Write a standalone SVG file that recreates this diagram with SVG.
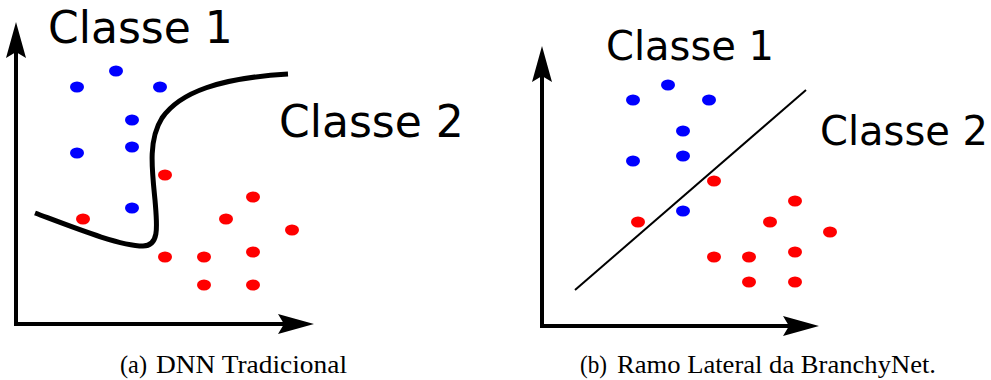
<svg xmlns="http://www.w3.org/2000/svg" width="991" height="380" viewBox="0 0 991 380">
  <defs>
    <style>
      .axis { stroke: #000; stroke-width: 4; fill: none; }
      .b { fill: #0000ff; }
      .r { fill: #ff0000; }
      .lbl { font-family: "DejaVu Sans", sans-serif; fill: #000; }
      .cap { font-family: "Liberation Serif", "Times New Roman", serif; font-size: 26px; fill: #000; }
    </style>
    <marker id="arr" markerUnits="userSpaceOnUse" viewBox="-6 -10 36 20" refX="0" refY="0" markerWidth="36" markerHeight="20" orient="auto" overflow="visible">
      <path d="M30,0 L-6,-10 L0,0 L-6,10 Z" fill="#000"/>
    </marker>
  </defs>
  <rect width="991" height="380" fill="#fff"/>

  <!-- Panel (a) -->
  <g id="panel-a">
    <g id="axes-a">
      <path class="axis" d="M16,326 L16,52" marker-end="url(#arr)"/>
      <path class="axis" d="M14,324 L284,324" marker-end="url(#arr)"/>
    </g>
    <g id="boundary-a">
      <path d="M35,213 C75,228 120,246 143,246 C160,246 157,225 155,200 C152,170 148,140 162,118 C180,92 220,78 288,74" fill="none" stroke="#000" stroke-width="5"/>
    </g>
    <g id="class1-a">
      <ellipse class="b" cx="77" cy="87" rx="7" ry="5.5"/>
      <ellipse class="b" cx="116" cy="71" rx="7" ry="5.5"/>
      <ellipse class="b" cx="160" cy="87" rx="7" ry="5.5"/>
      <ellipse class="b" cx="132" cy="120" rx="7" ry="5.5"/>
      <ellipse class="b" cx="77" cy="153" rx="7" ry="5.5"/>
      <ellipse class="b" cx="132" cy="147" rx="7" ry="5.5"/>
      <ellipse class="b" cx="132" cy="208" rx="7" ry="5.5"/>
    </g>
    <g id="class2-a">
      <ellipse class="r" cx="165" cy="175" rx="7" ry="5.5"/>
      <ellipse class="r" cx="83" cy="219" rx="7" ry="5.5"/>
      <ellipse class="r" cx="253" cy="197" rx="7" ry="5.5"/>
      <ellipse class="r" cx="226" cy="219" rx="7" ry="5.5"/>
      <ellipse class="r" cx="292" cy="230" rx="7" ry="5.5"/>
      <ellipse class="r" cx="165" cy="257" rx="7" ry="5.5"/>
      <ellipse class="r" cx="204" cy="257" rx="7" ry="5.5"/>
      <ellipse class="r" cx="253" cy="252" rx="7" ry="5.5"/>
      <ellipse class="r" cx="204" cy="285" rx="7" ry="5.5"/>
      <ellipse class="r" cx="253" cy="285" rx="7" ry="5.5"/>
    </g>
    <text class="lbl" x="48" y="43" font-size="44">Classe 1</text>
    <text class="lbl" x="279" y="137" font-size="44">Classe 2</text>
    <text class="cap" x="120" y="372.5" textLength="27" lengthAdjust="spacingAndGlyphs">(a)</text>
    <text class="cap" x="156" y="372.5" textLength="191" lengthAdjust="spacingAndGlyphs">DNN Tradicional</text>
  </g>

  <!-- Panel (b) -->
  <g id="panel-b">
    <g id="axes-b">
      <path class="axis" d="M542,328 L542,76" marker-end="url(#arr)"/>
      <path class="axis" d="M540,326 L789,326" marker-end="url(#arr)"/>
    </g>
    <g id="boundary-b">
      <path d="M575,290 L806,90" fill="none" stroke="#000" stroke-width="2"/>
    </g>
    <g id="class1-b">
      <ellipse class="b" cx="633" cy="100" rx="7" ry="5.5"/>
      <ellipse class="b" cx="668" cy="85" rx="7" ry="5.5"/>
      <ellipse class="b" cx="709" cy="100" rx="7" ry="5.5"/>
      <ellipse class="b" cx="683" cy="131" rx="7" ry="5.5"/>
      <ellipse class="b" cx="633" cy="161" rx="7" ry="5.5"/>
      <ellipse class="b" cx="683" cy="156" rx="7" ry="5.5"/>
      <ellipse class="b" cx="683" cy="211" rx="7" ry="5.5"/>
    </g>
    <g id="class2-b">
      <ellipse class="r" cx="714" cy="181" rx="7" ry="5.5"/>
      <ellipse class="r" cx="638" cy="222" rx="7" ry="5.5"/>
      <ellipse class="r" cx="795" cy="201" rx="7" ry="5.5"/>
      <ellipse class="r" cx="770" cy="222" rx="7" ry="5.5"/>
      <ellipse class="r" cx="830" cy="232" rx="7" ry="5.5"/>
      <ellipse class="r" cx="714" cy="257" rx="7" ry="5.5"/>
      <ellipse class="r" cx="749" cy="257" rx="7" ry="5.5"/>
      <ellipse class="r" cx="795" cy="252" rx="7" ry="5.5"/>
      <ellipse class="r" cx="749" cy="282" rx="7" ry="5.5"/>
      <ellipse class="r" cx="795" cy="282" rx="7" ry="5.5"/>
    </g>
    <text class="lbl" x="606" y="60" font-size="40">Classe 1</text>
    <text class="lbl" x="820" y="145" font-size="40">Classe 2</text>
    <text class="cap" x="580" y="372.5" textLength="27" lengthAdjust="spacingAndGlyphs">(b)</text>
    <text class="cap" x="617" y="372.5" textLength="319" lengthAdjust="spacingAndGlyphs">Ramo Lateral da BranchyNet.</text>
  </g>
</svg>
